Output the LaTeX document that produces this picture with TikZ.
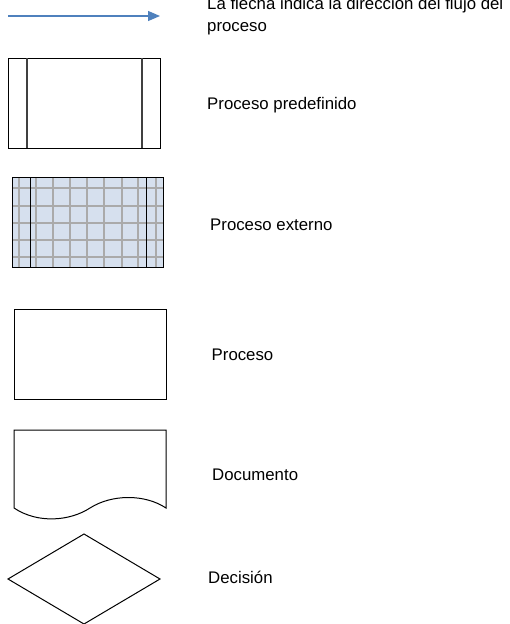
\documentclass[tikz,border=0pt]{standalone}
\usepackage{fontspec}
\setmainfont{Liberation Sans}
\usetikzlibrary{arrows.meta}
\definecolor{flowblue}{RGB}{79,129,189}
\definecolor{extfill}{RGB}{214,224,238}
\definecolor{gridgray}{RGB}{170,170,170}
\begin{document}
\begin{tikzpicture}[x=1pt,y=-1pt,
  lbl/.style={anchor=base west,inner sep=0pt,font=\fontsize{16.8}{21}\selectfont},
  shapeline/.style={draw=black,line width=1pt},
  boxnode/.style={shapeline,minimum width=152pt,minimum height=90pt,inner sep=0pt,outer sep=0pt}]
\useasboundingbox (0,0) rectangle (510,624);
% arrow
\coordinate (a1) at (8,16);
\coordinate (a2) at (160,16);
\draw[flowblue,line width=1.3pt,-{Triangle[length=12pt,width=10pt]}] (a1) -- (a2);
\node[lbl] (t1) at (207,9.5) {La flecha indica la dirección del flujo del};
\node[lbl] (t1b) at (207,31) {proceso};
% predefined process
\node[boxnode] (pre) at (84,103) {};
\draw[shapeline,draw=black!75,line width=1.3pt] ([xshift=19pt]pre.north west) -- ([xshift=19pt]pre.south west);
\draw[shapeline,draw=black!75,line width=1.3pt] ([xshift=-18pt]pre.north east) -- ([xshift=-18pt]pre.south east);
\node[lbl] (t2) at (207,109.3) {Proceso predefinido};
% external process
\node[boxnode,draw=none,fill=extfill,minimum width=151pt] (ext) at (87.5,222) {};
\begin{scope}
\clip (ext.north west) rectangle (ext.south east);
\foreach \gx in {19,36,53,70,87,104,122,138,156}
  \draw[gridgray,line width=1.5pt] (\gx,177) -- (\gx,267);
\foreach \gy in {188,206,223,240,257}
  \draw[gridgray,line width=1.5pt] (12,\gy) -- (163,\gy);
\end{scope}
\draw[black,line width=0.9pt] (ext.north west) rectangle (ext.south east);
\draw[black,line width=0.9pt] ([xshift=18pt]ext.north west) -- ([xshift=18pt]ext.south west);
\draw[black,line width=0.9pt] ([xshift=-17pt]ext.north east) -- ([xshift=-17pt]ext.south east);
\node[lbl] (t3) at (210,230.7) {Proceso externo};
% process
\node[boxnode] (proc) at (90,354) {};
\node[lbl] (t4) at (211.5,360.7) {Proceso};
% document
\draw[shapeline] (14,508) -- (14,430) -- (166,430) -- (166,508)
  .. controls (145,494) and (112,494) .. (90,508)
  .. controls (70,521) and (38,524) .. (14,508) -- cycle;
\node[lbl] (t5) at (212,480) {Documento};
% decision
\draw[shapeline] (8,579) -- (84,534) -- (160,579) -- (84,624) -- cycle;
\node[lbl] (t6) at (208,583) {Decisión};
\end{tikzpicture}
\end{document}
